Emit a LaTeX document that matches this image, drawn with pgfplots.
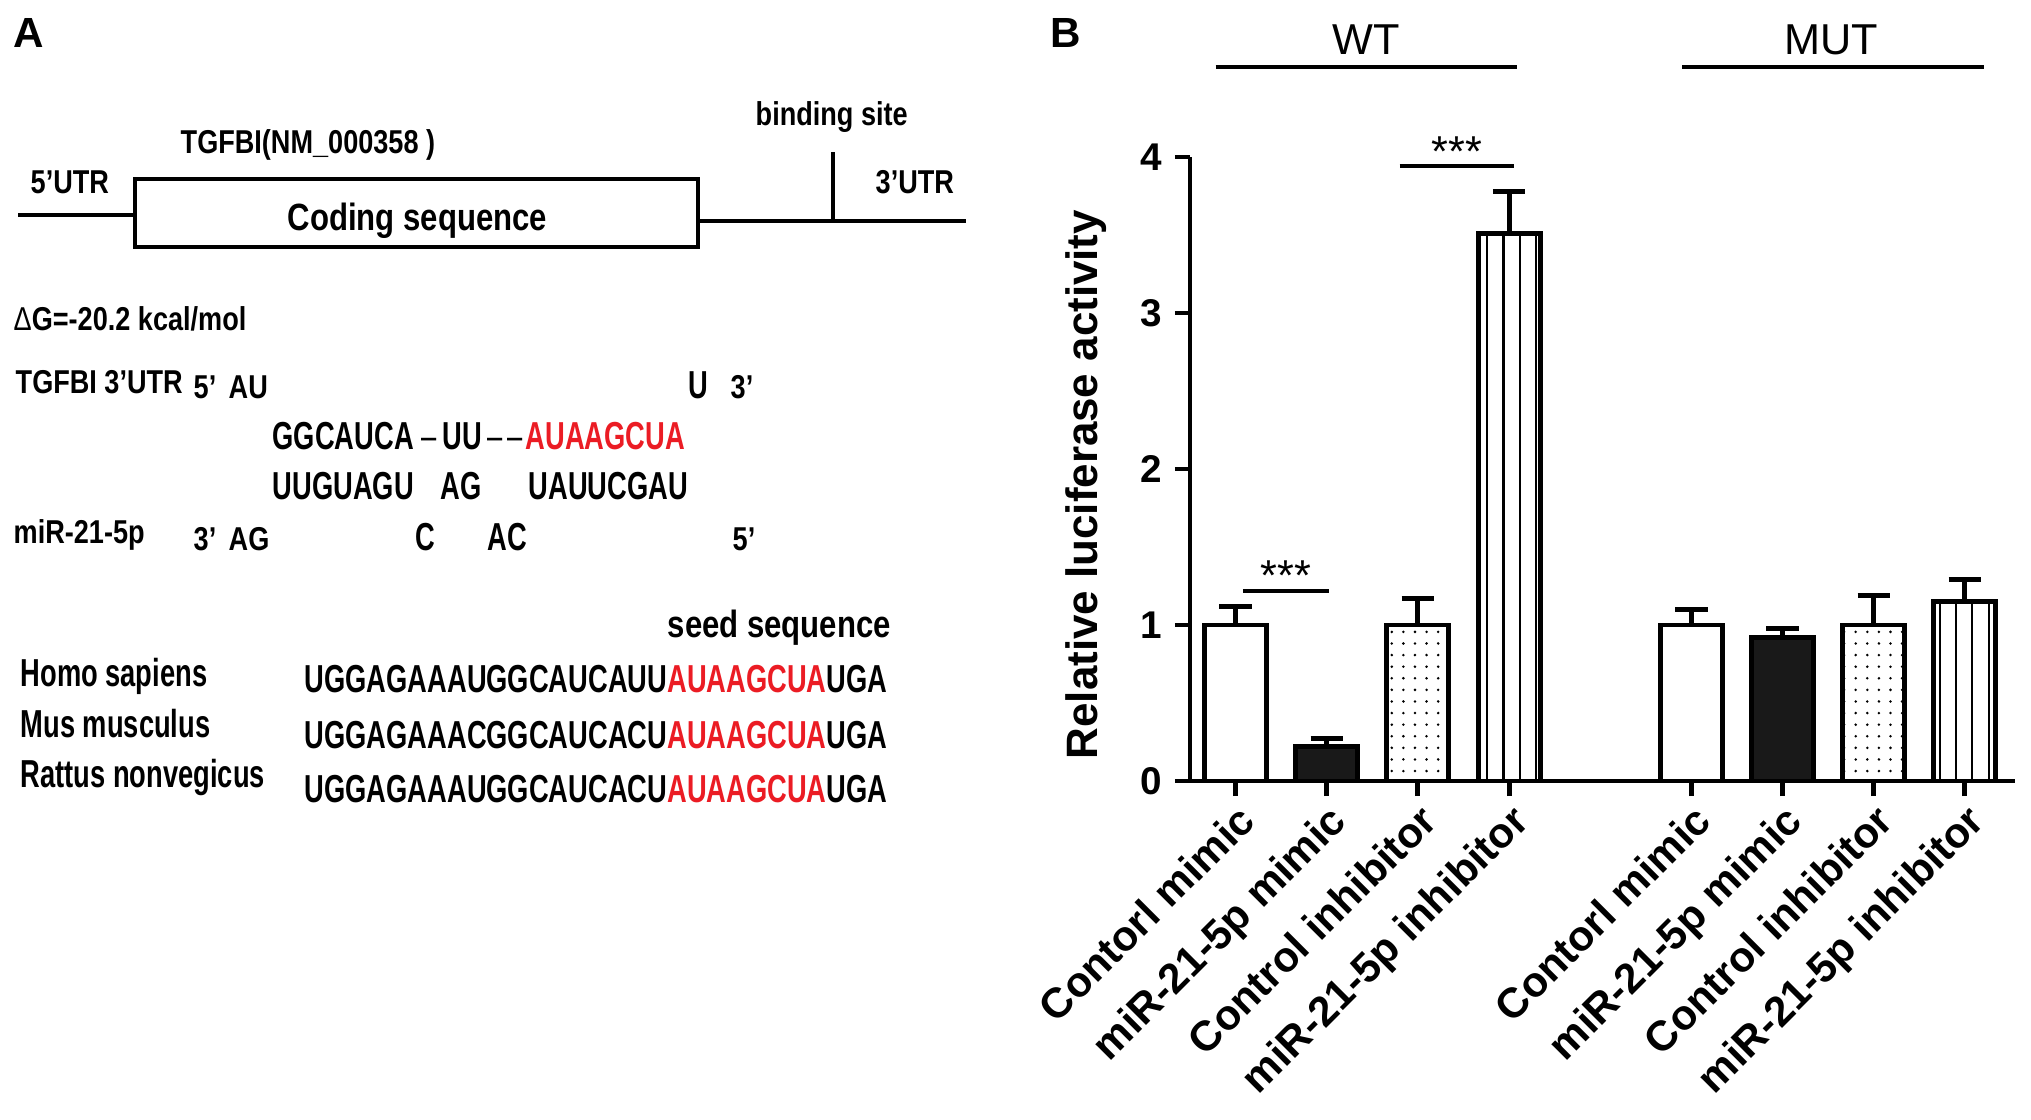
\documentclass[border=0pt]{standalone}
\usepackage{fontspec}
\setmainfont{Liberation Sans}
\newfontfamily\condA[FakeStretch=0.82]{Liberation Sans}
\newfontfamily\condB[FakeStretch=0.70]{Liberation Sans}
\usepackage{pgfplots}
\pgfplotsset{compat=1.18}
\usetikzlibrary{patterns.meta}

\newcommand{\fs}[1]{\fontsize{#1}{#1}\selectfont}
\newcommand{\labS}{\condA\bfseries\fs{9.4pt}}
\newcommand{\labQ}{\condB\bfseries\fs{11.1pt}}
\newcommand{\labL}{\condA\bfseries\fs{10.8pt}}
\definecolor{seqred}{RGB}{235,28,36}

\pgfplotsset{
  barst/.style={draw=black, line width=1.4pt,
    error bars/y dir=plus, error bars/y explicit,
    error bars/error bar style={line width=1.4pt, black},
    error bars/error mark options={rotate=90, line width=1.4pt, mark size=4.6pt, black}},
}

\begin{document}
\begin{tikzpicture}
\useasboundingbox (0,0) rectangle (203.1mm,-111.9mm);

% panel A, drawn in pixel units (y downwards)
\begin{scope}[x=0.1mm, y=-0.1mm, every node/.style={inner sep=0pt, anchor=base west}]
  \node at (13,47) {\fs{12pt}\bfseries A};
  \node at (1050,47) {\fs{12pt}\bfseries B};

  \draw[line width=1.4pt] (18,215) -- (135,215);
  \draw[line width=1.4pt] (135,179) rectangle (698,247);
  \draw[line width=1.4pt] (698,221) -- (966,221);
  \draw[line width=1.2pt] (833,152) -- (833,221);

  \node at (30,193) {\labS 5’UTR};
  \node at (180,153) {\labS TGFBI(NM\_000358 )};
  \node at (755,125) {\labS binding site};
  \node at (875,193) {\labS 3’UTR};
  \node at (287,230) {\labL Coding sequence};

  \node at (13,330) {\labS{\mdseries Δ}G=-20.2 kcal/mol};

  \node at (15,393) {\labS TGFBI 3’UTR};
  \node at (193,398) {\labS 5’};
  \node at (228,398) {\labS AU};
  \node at (688,398) {\labQ U};
  \node at (730,398) {\labS 3’};

  \node at (272,449) {\labQ GGCAUCA};
  \node at (421,449) {\labQ\mdseries –};
  \node at (442,449) {\labQ UU};
  \node at (487,449) {\labQ\mdseries –};
  \node at (507,449) {\labQ\mdseries –};
  \node at (525,449) {\labQ\color{seqred}AUAAGCUA};

  \node at (272,499) {\labQ UUGUAGU};
  \node at (440,499) {\labQ AG};
  \node at (528,499) {\labQ UAUUCGAU};

  \node at (13,543) {\labS miR-21-5p};
  \node at (193,550) {\labS 3’};
  \node at (228,550) {\labS AG};
  \node at (415,550) {\labQ C};
  \node at (487,550) {\labQ AC};
  \node at (732,550) {\labS 5’};

  \node at (667,637) {\labL seed sequence};
  \node at (20,686) {\labQ Homo sapiens};
  \node at (20,737) {\labQ Mus musculus};
  \node at (20,787) {\labQ Rattus nonvegicus};
  \node at (304,692) {\labQ UGGAGAAAUGGCAUCAUU\textcolor{seqred}{AUAAGCUA}UGA};
  \node at (304,748) {\labQ UGGAGAAACGGCAUCACU\textcolor{seqred}{AUAAGCUA}UGA};
  \node at (304,802) {\labQ UGGAGAAAUGGCAUCACU\textcolor{seqred}{AUAAGCUA}UGA};
\end{scope}

% panel B
\begin{axis}[
    at={(119.0mm,-78.1mm)}, anchor=south west,
    scale only axis, width=82.5mm, height=62.4mm,
    xmin=-0.5, xmax=8.55, ymin=0, ymax=4,
    axis x line=bottom, axis y line=left,
    axis line style={-, line width=1.4pt},
    ybar, bar width=0.68, bar shift=0pt,
    clip=false,
    tick align=outside, major tick length=4.3pt,
    tick style={line width=1.4pt, black},
    /pgf/number format/assume math mode=true,
    xtick={0,1,2,3,5,6,7,8},
    xticklabels={Contorl mimic, miR-21-5p mimic, Control inhibitor, miR-21-5p inhibitor,
                 Contorl mimic, miR-21-5p mimic, Control inhibitor, miR-21-5p inhibitor},
    x tick label style={rotate=45, anchor=north east, font=\bfseries\fs{12pt}, inner sep=1pt},
    ytick={0,1,2,3,4},
    y tick label style={font=\bfseries\fs{11pt}},
    ylabel={Relative luciferase activity},
    ylabel style={font=\bfseries\fs{12.5pt}, at={(axis description cs:-0.126,0.475)}, anchor=center},
]
\addplot[fill=white, barst] coordinates {(0,1.00) +- (0,0.12) (5,1.00) +- (0,0.10)};
\addplot[fill=black!90, barst] coordinates {(1,0.22) +- (0,0.05) (6,0.92) +- (0,0.055)};
\addplot[pattern={Dots[distance=3.3pt, radius=0.4pt]}, barst] coordinates {(2,1.00) +- (0,0.17) (7,1.00) +- (0,0.19)};
\addplot[pattern={Lines[angle=90, distance=4.6pt, line width=0.6pt]}, barst] coordinates {(3,3.51) +- (0,0.27) (8,1.15) +- (0,0.14)};

\draw[line width=1.2pt] (axis cs:-0.22,4.577) -- (axis cs:3.09,4.577);
\draw[line width=1.2pt] (axis cs:4.90,4.577) -- (axis cs:8.21,4.577);
\node[anchor=base, inner sep=0pt, font=\fs{12.3pt}] at (axis cs:1.43,4.654) {WT};
\node[anchor=base, inner sep=0pt, font=\fs{12.3pt}] at (axis cs:6.53,4.654) {MUT};

\draw[line width=1.1pt] (axis cs:0.08,1.22) -- (axis cs:1.03,1.22);
\draw[line width=1.1pt] (axis cs:1.80,3.94) -- (axis cs:3.05,3.94);
\node[anchor=base, inner sep=0pt, font=\fs{12.3pt}] at (axis cs:0.55,1.22) {***};
\node[anchor=base, inner sep=0pt, font=\fs{12.3pt}] at (axis cs:2.43,3.94) {***};
\end{axis}
\end{tikzpicture}
\end{document}
